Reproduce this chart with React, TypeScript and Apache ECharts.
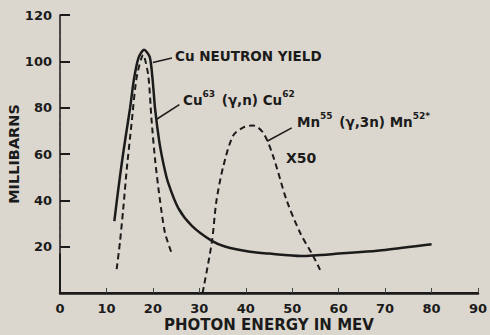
import React, { useEffect, useRef } from "react";
import * as echarts from "echarts";

// Photon energy (MeV) and cross sections (millibarns)
const yieldEnergy = [11.7, 12.5, 13.3, 14.1, 15.1, 15.9, 16.9, 18.1, 19.3, 19.9, 20.5, 21.4, 22.3, 23.3, 25.5, 28.4, 32.7, 35.5, 40.9, 45.0, 52.0, 60.0, 70.0, 80.0];
const yieldValue = [31, 44, 56, 67, 80, 92, 101.5, 105, 102, 93, 79, 65, 55.5, 47.5, 36.5, 29, 22.5, 20.1, 17.8, 17, 16, 17, 18.6, 21];

const cuEnergy = [12.2, 12.9, 13.6, 14.4, 15.4, 16.5, 17.9, 19.0, 19.7, 20.5, 21.5, 22.6, 24.1];
const cuValue = [10.3, 21.8, 36, 54, 73, 93, 102.8, 94, 75, 57, 40.4, 26, 16.8];

const mnEnergy = [30.7, 32.7, 33.7, 35.2, 37.3, 39.5, 41.6, 43.8, 45.9, 48.8, 51.7, 54.5, 56.0];
const mnValue = [0, 22, 40, 55, 68, 71.5, 72.3, 69, 59, 40, 26, 16, 10];

const xTicks = [0, 10, 20, 30, 40, 50, 60, 70, 80, 90];
const yTicks = [0, 20, 40, 60, 80, 100, 120];

const pairs = (xs: number[], ys: number[]) => xs.map((x, i) => [x, ys[i]]);

const INK = "#1b1b1b";
const FONT = "DejaVu Sans";

export default function App() {
  const ref = useRef<HTMLDivElement>(null);
  useEffect(() => {
    if (!ref.current) return;
    const chart = echarts.init(ref.current, undefined, { renderer: "svg" });
    const leader = (a: number[], b: number[]) => [{ coord: a }, { coord: b }];
    const richStyles = {
      b: { fontFamily: FONT, fontSize: 13.5, fontWeight: "bold", fill: INK, lineHeight: 22, verticalAlign: "bottom" },
      s: { fontFamily: FONT, fontSize: 9, fontWeight: "bold", fill: INK, lineHeight: 22, padding: [0, 2, 9, 0], verticalAlign: "bottom" },
    };
    chart.setOption({
      animation: false,
      backgroundColor: "#dbd7ce",
      textStyle: { fontFamily: FONT, color: INK },
      grid: { left: 60, top: 15, right: 12, bottom: 42, outerBoundsMode: "none", containLabel: false },
      xAxis: [
        {
          type: "value",
          min: xTicks[0],
          max: xTicks[xTicks.length - 1],
          interval: 10,
          name: "PHOTON ENERGY IN MEV",
          nameLocation: "middle",
          nameGap: 24,
          nameMoveOverlap: false,
          nameTextStyle: { fontFamily: FONT, fontSize: 15, fontWeight: "bold", color: INK },
          axisLine: { lineStyle: { color: INK, width: 2.5 } },
          axisTick: { inside: true, length: 5, lineStyle: { color: "#444", width: 1 } },
          axisLabel: { fontFamily: FONT, fontSize: 13, fontWeight: "bold", color: INK, margin: 9 },
          splitLine: { show: false },
        },
        {
          type: "value",
          position: "top",
          min: 0,
          max: 90,
          axisLine: { show: true, lineStyle: { color: INK, width: 2 } },
          axisTick: { show: false },
          axisLabel: { show: false },
          splitLine: { show: false },
        },
      ],
      yAxis: [
        {
          type: "value",
          min: yTicks[0],
          max: yTicks[yTicks.length - 1],
          interval: 20,
          name: "MILLIBARNS",
          nameLocation: "middle",
          nameGap: 39,
          nameMoveOverlap: false,
          nameRotate: 90,
          nameTextStyle: { fontFamily: FONT, fontSize: 14.5, fontWeight: "bold", color: INK },
          axisLine: { show: true, lineStyle: { color: "#b3b0aa", width: 1, type: [3, 4] } },
          axisTick: { inside: true, length: 10, lineStyle: { color: INK, width: 2 } },
          axisLabel: {
            fontFamily: FONT,
            fontSize: 13,
            fontWeight: "bold",
            color: INK,
            margin: 8,
            formatter: (v: number) => (v === 0 ? "" : String(v)),
          },
          splitLine: { show: false },
        },
        {
          type: "value",
          position: "right",
          min: 0,
          max: 120,
          axisLine: { show: true, lineStyle: { color: INK, width: 1.5 } },
          axisTick: { show: false },
          axisLabel: { show: false },
          splitLine: { show: false },
        },
      ],
      series: [
        {
          name: "Cu neutron yield",
          type: "line",
          data: pairs(yieldEnergy, yieldValue),
          smooth: 0.25,
          symbol: "none",
          lineStyle: { color: INK, width: 2.5 },
          markLine: {
            silent: true,
            symbol: "none",
            label: { show: false },
            lineStyle: { color: INK, width: 1.5, type: "solid" },
            data: [
              leader([20.0, 99.5], [24.1, 101.4]),
              leader([20.8, 75], [25.7, 81.3]),
              leader([44.6, 65.5], [49.9, 71.3]),
              [{ coord: [0, 0], lineStyle: { width: 2 } }, { coord: [0, 17] }],
            ],
          },
        },
        {
          name: "Cu63",
          type: "line",
          data: pairs(cuEnergy, cuValue),
          smooth: 0.25,
          symbol: "none",
          lineStyle: { color: INK, width: 2, type: [6, 4] },
        },
        {
          name: "Mn55",
          type: "line",
          data: pairs(mnEnergy, mnValue),
          smooth: 0.3,
          symbol: "none",
          lineStyle: { color: INK, width: 2, type: [6, 4] },
        },
      ],
      graphic: [
        {
          type: "text",
          left: 175,
          top: 49,
          style: { text: "Cu NEUTRON YIELD", font: `bold 13.5px "${FONT}"`, fill: INK },
        },
        {
          type: "text",
          left: 183,
          top: 89,
          style: { text: "{b|Cu}{s|63}{b| (γ,n) Cu}{s|62}", fill: INK, rich: richStyles },
        },
        {
          type: "text",
          left: 297,
          top: 111,
          style: { text: "{b|Mn}{s|55}{b| (γ,3n) Mn}{s|52*}", fill: INK, rich: richStyles },
        },
        {
          type: "text",
          left: 286,
          top: 151,
          style: { text: "X50", font: `bold 14px "${FONT}"`, fill: INK },
        },
      ],
    });
    return () => chart.dispose();
  }, []);
  return (
    <div
      ref={ref}
      style={{ position: "fixed", left: 0, top: 0, width: 490, height: 335 }}
    />
  );
}
